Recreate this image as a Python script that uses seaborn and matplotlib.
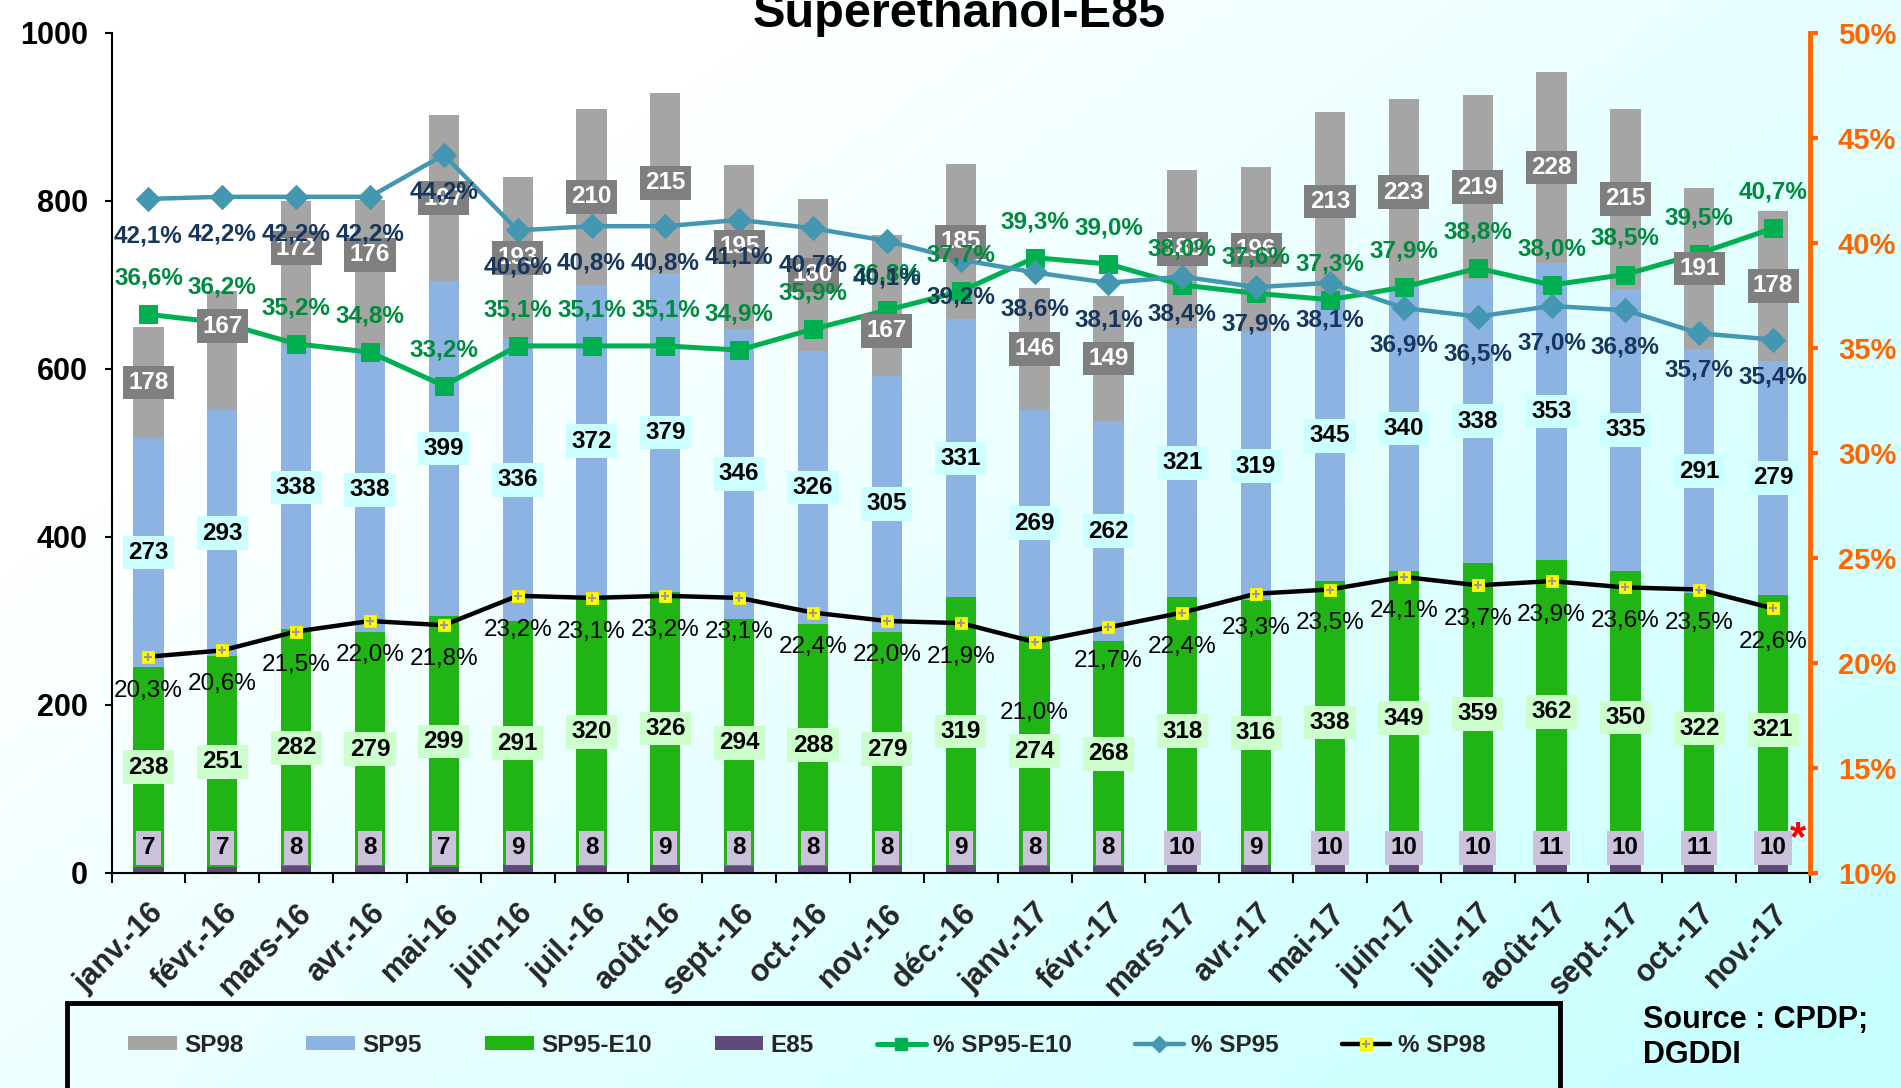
import numpy as np
import pandas as pd
import matplotlib
matplotlib.use("Agg")
import matplotlib.pyplot as plt
import seaborn as sns
from matplotlib.patches import Rectangle, Patch
from matplotlib.lines import Line2D

# ---------------- data ----------------
months = ["janv.-16", "févr.-16", "mars-16", "avr.-16", "mai-16", "juin-16", "juil.-16",
          "août-16", "sept.-16", "oct.-16", "nov.-16", "déc.-16", "janv.-17", "févr.-17",
          "mars-17", "avr.-17", "mai-17", "juin-17", "juil.-17", "août-17", "sept.-17",
          "oct.-17", "nov.-17"]
e85 = [7, 7, 8, 8, 7, 9, 8, 9, 8, 8, 8, 9, 8, 8, 10, 9, 10, 10, 10, 11, 10, 11, 10]
sp95_e10 = [238, 251, 282, 279, 299, 291, 320, 326, 294, 288, 279, 319, 274, 268, 318, 316,
            338, 349, 359, 362, 350, 322, 321]
sp95 = [273, 293, 338, 338, 399, 336, 372, 379, 346, 326, 305, 331, 269, 262, 321, 319,
        345, 340, 338, 353, 335, 291, 279]
sp98_bar = [132, 142, 172, 176, 197, 193, 210, 215, 195, 180, 167, 185, 146, 149, 188, 196,
            213, 223, 219, 228, 215, 191, 178]
sp98_label = [178, 167, 172, 176, 197, 193, 210, 215, 195, 180, 167, 185, 146, 149, 188, 196,
              213, 223, 219, 228, 215, 191, 178]
pct_e10 = [36.6, 36.2, 35.2, 34.8, 33.2, 35.1, 35.1, 35.1, 34.9, 35.9, 36.8, 37.7, 39.3, 39.0,
           38.0, 37.6, 37.3, 37.9, 38.8, 38.0, 38.5, 39.5, 40.7]
pct_sp95 = [42.1, 42.2, 42.2, 42.2, 44.2, 40.6, 40.8, 40.8, 41.1, 40.7, 40.1, 39.2, 38.6, 38.1,
            38.4, 37.9, 38.1, 36.9, 36.5, 37.0, 36.8, 35.7, 35.4]
pct_sp98 = [20.3, 20.6, 21.5, 22.0, 21.8, 23.2, 23.1, 23.2, 23.1, 22.4, 22.0, 21.9, 21.0, 21.7,
            22.4, 23.3, 23.5, 24.1, 23.7, 23.9, 23.6, 23.5, 22.6]

# manual label nudges (label index -> shift), as in the source chart
sp98_label_shift = {1: 29, 2: 30, 3: 23, 10: -30}
pct98_label_extra = {12: -37}

# ---------------- style ----------------
sns.set_theme(style="white")
plt.rcParams["font.family"] = ["Liberation Sans", "DejaVu Sans"]

C_SP98 = "#A5A5A5"
C_SP95 = "#8DB3E2"
C_E10 = "#20B515"
C_E85 = "#604A7B"
C_LE10 = "#00B050"
C_LSP95 = "#4397B0"
C_TXT_E10 = "#008A3E"
C_TXT_SP95 = "#17365D"
C_ORANGE = "#FF6600"

W, H, DPI = 1901, 1088, 100
fig = plt.figure(figsize=(W / DPI, H / DPI), dpi=DPI)

# background gradient
bg = fig.add_axes([0, 0, 1, 1], zorder=-10)
xx, yy = np.meshgrid(np.linspace(0, 1, 300), np.linspace(0, 1, 300))
t = np.clip(0.75 * xx + 0.6 * yy - 0.3, 0, 1)
img = np.dstack([1 - t * (1 - 200 / 255), np.ones_like(t), np.ones_like(t)])
bg.imshow(img, aspect="auto", extent=[0, 1, 0, 1], interpolation="bilinear")
bg.axis("off")

ax = fig.add_axes([111.5 / W, 215 / H, (1810 - 111.5) / W, 840 / H])
ax.patch.set_alpha(0)

df = pd.DataFrame({"month": months, "e85": e85, "e10": sp95_e10, "sp95": sp95, "sp98": sp98_bar})
df["c_e10"] = df["e85"] + df["e10"]
df["c_sp95"] = df["c_e10"] + df["sp95"]
df["c_sp98"] = df["c_sp95"] + df["sp98"]

bw = 0.41
for col, colr in [("c_sp98", C_SP98), ("c_sp95", C_SP95), ("c_e10", C_E10), ("e85", C_E85)]:
    sns.barplot(data=df, x="month", y=col, order=months, color=colr, saturation=1,
                width=bw, ax=ax, edgecolor="none", linewidth=0)

ax.set_ylim(0, 1000)
ax.set_xlim(-0.5, len(months) - 0.5)
ax.set_yticks(range(0, 1001, 200))
ax.set_ylabel("")
ax.set_xlabel("")
for s in ["top", "right"]:
    ax.spines[s].set_visible(False)
for s in ["left", "bottom"]:
    ax.spines[s].set_color("black")
    ax.spines[s].set_linewidth(1.5)
ax.tick_params(axis="y", which="major", direction="out", length=5, width=1.5, pad=12,
               labelsize=22, colors="black", left=True)
for lb in ax.get_yticklabels():
    lb.set_fontweight("bold")
ax.set_xticks(range(len(months)))
ax.set_xticklabels(months, rotation=45, ha="right", rotation_mode="anchor",
                   fontsize=22, fontweight="bold")
ax.tick_params(axis="x", which="major", length=0, pad=18)
ax.set_xticks(np.arange(-0.5, len(months), 1), minor=True)
ax.tick_params(axis="x", which="minor", direction="out", length=7, width=1.5,
               color="black", bottom=True)

# twin axis for percentages
ax2 = ax.twinx()
ax2.patch.set_alpha(0)
ax2.set_ylim(10, 50)
ax2.set_yticks(range(10, 51, 5))
ax2.set_yticklabels([f"{v}%" for v in range(10, 51, 5)], fontsize=21, fontweight="bold",
                    color=C_ORANGE)
for s in ["top", "left", "bottom"]:
    ax2.spines[s].set_visible(False)
ax2.spines["right"].set_color(C_ORANGE)
ax2.spines["right"].set_linewidth(3.5)
ax2.tick_params(axis="y", direction="out", length=6, width=3, color=C_ORANGE, pad=14, right=True)
ax2.set_ylabel("")

pos = np.arange(len(months))
sns.lineplot(x=pos, y=pct_e10, ax=ax2, color=C_LE10, lw=3.6, marker="s", markersize=13,
             markeredgecolor=C_LE10, markerfacecolor=C_LE10, sort=False, zorder=3)
sns.lineplot(x=pos, y=pct_sp95, ax=ax2, color=C_LSP95, lw=3.2, marker="D", markersize=12,
             markeredgecolor=C_LSP95, markerfacecolor=C_LSP95, sort=False, zorder=3)
sns.lineplot(x=pos, y=pct_sp98, ax=ax2, color="black", lw=3.2, marker="s", markersize=8,
             markeredgecolor="#F0F000", markerfacecolor="#FFFF00", sort=False, zorder=3)
ax2.plot(pos, pct_sp98, ls="none", marker="+", markersize=6, mew=1.5, color="#999999", zorder=3.1)
ax2.set_xlim(-0.5, len(months) - 0.5)

# ---------------- labels ----------------
FS = 17.5

def box_label(x, y, txt, fc, tc):
    ax2.text(x, y, txt, transform=ax.transData, ha="center", va="center", fontsize=FS,
             fontweight="bold", color=tc, zorder=6,
             bbox=dict(boxstyle="square,pad=0.22", fc=fc, ec="none"))

for i in range(len(months)):
    box_label(i, 30, str(e85[i]), "#CCC1DA", "black")
    box_label(i, e85[i] + sp95_e10[i] / 2, str(sp95_e10[i]), "#CCFFCC", "black")
    box_label(i, df["c_e10"][i] + sp95[i] / 2, str(sp95[i]), "#CCFFFF", "black")
    box_label(i, df["c_sp95"][i] + sp98_bar[i] / 2 + sp98_label_shift.get(i, 0),
              str(sp98_label[i]), "#7F7F7F", "white")

def fmt(v):
    return f"{v:.1f}%".replace(".", ",")

for i in range(len(months)):
    ax2.annotate(fmt(pct_e10[i]), (i, pct_e10[i]), xytext=(0, 36 * 0.72),
                 textcoords="offset points", ha="center", va="center", fontsize=FS,
                 fontweight="bold", color=C_TXT_E10, zorder=7)
    ax2.annotate(fmt(pct_sp95[i]), (i, pct_sp95[i]), xytext=(0, -37 * 0.72),
                 textcoords="offset points", ha="center", va="center", fontsize=FS,
                 fontweight="bold", color=C_TXT_SP95, zorder=7)
    ax2.annotate(fmt(pct_sp98[i]), (i, pct_sp98[i]),
                 xytext=(0, (-34 + pct98_label_extra.get(i, 0)) * 0.72),
                 textcoords="offset points", ha="center", va="center", fontsize=FS,
                 fontweight="normal", color="black", zorder=7)

# red asterisk next to last E85 label
ax2.annotate("*", (len(months) - 1, 30), xycoords=ax.transData, xytext=(12, 6),
             textcoords="offset points", ha="left", va="center", fontsize=30,
             fontweight="bold", color="red", zorder=8)

# title and source
fig.text(959 / W, 1 - 27 / H, "Superethanol-E85", ha="center", va="baseline",
         fontsize=35, fontweight="bold", color="black")
fig.text(1643 / W, 1 - 1005 / H, "Source : CPDP;\nDGDDI", ha="left", va="top",
         fontsize=22, fontweight="bold", color="black", linespacing=1.2)

# legend
handles = [
    Patch(fc=C_SP98, ec="none"), Patch(fc=C_SP95, ec="none"),
    Patch(fc=C_E10, ec="none"), Patch(fc=C_E85, ec="none"),
    Line2D([], [], color=C_LE10, lw=3.6, marker="s", markersize=9),
    Line2D([], [], color=C_LSP95, lw=3.2, marker="D", markersize=8),
    (Line2D([], [], color="black", lw=3.2, marker="s", markersize=8,
            mfc="#FFFF00", mec="#F0F000"),
     Line2D([], [], ls="none", marker="+", markersize=6, mew=1.5, color="#999999")),
]
labels = ["SP98", "SP95", "SP95-E10", "E85", "% SP95-E10", "% SP95", "% SP98"]
fig.legend(handles, labels, loc="center left", bbox_to_anchor=(128 / W, 43 / H), ncol=7,
           frameon=False, borderpad=0, borderaxespad=0, handlelength=2.0,
           handleheight=0.55, handletextpad=0.3, columnspacing=2.6,
           prop={"size": 17.5, "weight": "bold"})
fig.patches.append(Rectangle((67 / W, -0.05), (1560 - 67) / W, 0.05 + 85 / H,
                             transform=fig.transFigure, fill=False, ec="black", lw=3.5))

fig.savefig("out.png", dpi=DPI)
